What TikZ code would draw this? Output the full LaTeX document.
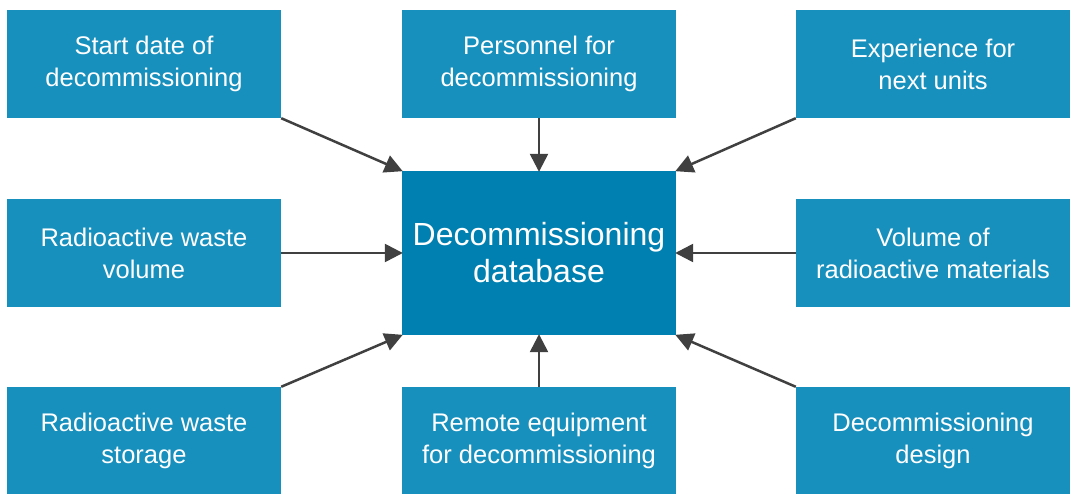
\documentclass[tikz,border=0pt]{standalone}
\usepackage{fontspec}
\setmainfont{Liberation Sans}
\usetikzlibrary{arrows.meta}
\definecolor{outerblue}{HTML}{1890BD}
\definecolor{innerblue}{HTML}{0080B0}
\definecolor{arrowgray}{HTML}{404040}
\tikzset{
  outerbox/.style={fill=outerblue, draw=none, minimum width=274pt, minimum height=108pt, text=white, align=center, inner sep=0pt, font=\fontsize{25.5}{32}\selectfont},
  innerbox/.style={fill=innerblue, draw=none, minimum width=274pt, minimum height=164pt, text=white, align=center, inner sep=0pt, font=\fontsize{32}{37}\selectfont},
  conn/.style={draw=arrowgray, line width=2.5pt, -{Triangle[length=18pt, width=18pt]}, shorten >=-1pt}
}
\begin{document}
\begin{tikzpicture}[x=1pt, y=-1pt]
\useasboundingbox (0,0) rectangle (1072,494);
\node[innerbox] (c) at (539,253) {Decommissioning\\database};
\node[outerbox] (tl) at (144,64) {Start date of\\decommissioning};
\node[outerbox] (tm) at (539,64) {Personnel for\\decommissioning};
\node[outerbox] (tr) at (933,64) {Experience for\\next units};
\node[outerbox] (ml) at (144,253) {Radioactive waste\\volume};
\node[outerbox] (mr) at (933,253) {Volume of\\radioactive materials};
\node[outerbox] (bl) at (144,441) {Radioactive waste\\storage};
\node[outerbox] (bm) at (539,441) {Remote equipment\\for decommissioning};
\node[outerbox] (br) at (933,441) {Decommissioning\\design};
\draw[conn] (tl.south east) -- (c.north west);
\draw[conn] (tm.south) -- (c.north);
\draw[conn] (tr.south west) -- (c.north east);
\draw[conn] (ml.east) -- (c.west);
\draw[conn] (mr.west) -- (c.east);
\draw[conn] (bl.north east) -- (c.south west);
\draw[conn] (bm.north) -- (c.south);
\draw[conn] (br.north west) -- (c.south east);
\end{tikzpicture}
\end{document}
